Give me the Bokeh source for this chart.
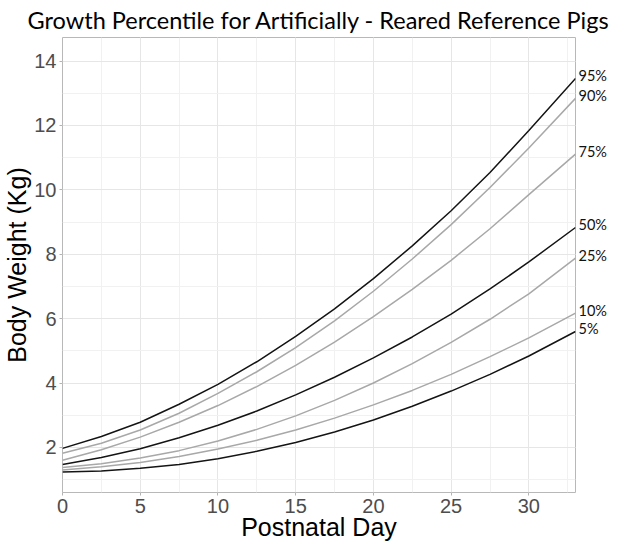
from bokeh.plotting import figure
from bokeh.models import Range1d, SingleIntervalTicker, FixedTicker, LinearAxis
from bokeh.embed import file_html
from bokeh.resources import INLINE

# ---- data ----
days = [0, 2.5, 5, 7.5, 10, 12.5, 15, 17.5, 20, 22.5, 25, 27.5, 30, 33]
p95 = [1.97, 2.34, 2.78, 3.34, 3.96, 4.66, 5.45, 6.30, 7.24, 8.26, 9.35, 10.54, 11.84, 13.46]
p90 = [1.82, 2.13, 2.54, 3.06, 3.68, 4.35, 5.10, 5.93, 6.85, 7.85, 8.92, 10.07, 11.30, 12.84]
p75 = [1.60, 1.93, 2.32, 2.78, 3.30, 3.89, 4.55, 5.27, 6.06, 6.91, 7.81, 8.79, 9.85, 11.11]
p50 = [1.47, 1.69, 1.96, 2.30, 2.69, 3.13, 3.63, 4.18, 4.78, 5.43, 6.14, 6.92, 7.76, 8.83]
p25 = [1.38, 1.49, 1.67, 1.90, 2.20, 2.56, 2.98, 3.46, 4.00, 4.60, 5.26, 5.98, 6.77, 7.88]
p10 = [1.30, 1.40, 1.53, 1.72, 1.95, 2.22, 2.54, 2.91, 3.32, 3.77, 4.27, 4.82, 5.40, 6.17]
p05 = [1.24, 1.27, 1.35, 1.47, 1.65, 1.88, 2.15, 2.48, 2.85, 3.28, 3.75, 4.27, 4.84, 5.60]

series = [p95, p90, p75, p50, p25, p10, p05]
series_labels = ["95%", "90%", "75%", "50%", "25%", "10%", "5%"]
series_colors = ["#141414", "#a8a8a8", "#a8a8a8", "#141414", "#a8a8a8", "#a8a8a8", "#141414"]

title_text = "Growth Percentile for Artificially - Reared Reference Pigs"
x_label = "Postnatal Day"
y_label = "Body Weight (Kg)"

p = figure(width=614, height=543, output_backend="svg", toolbar_location=None,
           x_range=Range1d(0, 33), y_range=Range1d(0.6, 14.73),
           min_border_left=30, min_border_right=39, min_border_top=30, min_border_bottom=30)

p.title.text = title_text
p.title.align = "center"
p.title.text_font = "Lato"
p.title.text_font_size = "23.5px"
p.title.text_font_style = "normal"
p.title.text_color = "#000000"
p.title.standoff = 7
p.title.offset = 8

xt = SingleIntervalTicker(interval=5, num_minor_ticks=2)
yt = SingleIntervalTicker(interval=2, num_minor_ticks=2)
p.xaxis.ticker = xt
p.yaxis.ticker = yt
p.xgrid.ticker = xt
p.ygrid.ticker = yt

for g in (p.xgrid, p.ygrid):
    g.grid_line_color = "#e6e6e6"
    g.grid_line_width = 1
    g.minor_grid_line_color = "#f1f1f1"
    g.minor_grid_line_width = 1

for ax in (p.xaxis, p.yaxis):
    ax.axis_line_color = None
    ax.major_tick_line_color = "#b3b3b3"
    ax.major_tick_out = 3
    ax.major_tick_in = 0
    ax.minor_tick_line_color = None
    ax.major_label_text_font = "Liberation Sans"
    ax.major_label_text_font_size = "20px"
    ax.major_label_text_color = "#4d4d4d"
    ax.major_label_text_line_height = 0.9
    ax.axis_label_text_font = "Liberation Sans"
    ax.axis_label_text_font_size = "25px"
    ax.axis_label_text_font_style = "normal"
    ax.axis_label_text_color = "#000000"
    ax.axis_label_text_line_height = 0.9

p.xaxis.major_label_standoff = 2
p.xaxis.axis_label_standoff = -3
p.yaxis.major_label_standoff = 2
p.yaxis.axis_label_standoff = 0

p.xaxis.axis_label = x_label
p.yaxis.axis_label = y_label

p.outline_line_color = "#b8b8b8"
p.outline_line_width = 1

for vals, col in zip(series, series_colors):
    p.line(days, vals, line_color=col, line_width=1.5)

# percentile names at the right end of each curve, via a right-hand axis
end_pos = [s[-1] + 0.08 for s in series]
right_axis = LinearAxis(ticker=FixedTicker(ticks=end_pos),
                        major_label_overrides={k: t for k, t in zip(end_pos, series_labels)})
right_axis.axis_line_color = None
right_axis.major_tick_line_color = None
right_axis.minor_tick_line_color = None
right_axis.major_tick_out = 0
right_axis.major_tick_in = 0
right_axis.axis_label_standoff = 0
right_axis.major_label_standoff = 3
right_axis.major_label_text_font = "Lato"
right_axis.major_label_text_font_size = "14.5px"
right_axis.major_label_text_color = "#111111"
p.add_layout(right_axis, "right")

open("out.html", "w").write(file_html(p, INLINE))
